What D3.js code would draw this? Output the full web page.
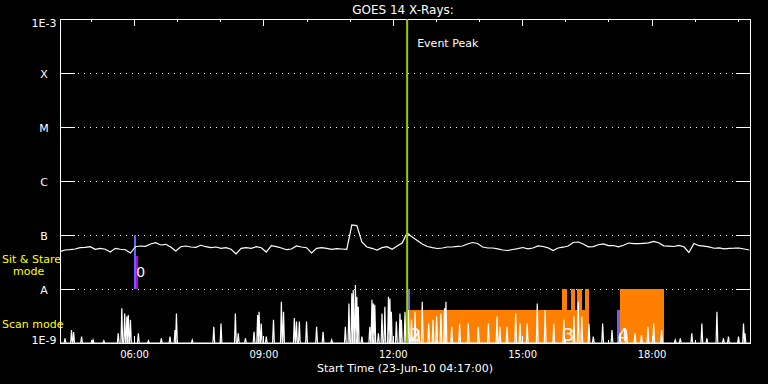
<!DOCTYPE html>
<html>
<head>
<meta charset="utf-8">
<script src="https://cdn.jsdelivr.net/npm/d3@7"></script>
<style>
  body { margin: 0; background: #000; }
  svg { display: block; font-family: "DejaVu Sans", sans-serif; }
</style>
</head>
<body>
<svg id="chart" width="768" height="384"></svg>
<script>
// ---------------------------------------------------------------------------
// data
// ---------------------------------------------------------------------------
const chartTitle = 'GOES 14 X-Rays:';
const xTitle = 'Start Time (23-Jun-10 04:17:00)';
const dayStr = '2010-06-23';
const startClock = '04:17';
const endClock = '20:17';
const xLabelHours = ['06:00', '09:00', '12:00', '15:00', '18:00'];
const yTickValues = [1e-9, 1e-8, 1e-7, 1e-6, 1e-5, 1e-4, 1e-3];
const yTickLabels = ['1E-9', 'A', 'B', 'C', 'M', 'X', '1E-3'];

// GOES long channel, one sample every 7 min from start time, in 1e-8 W/m^2
const longStepMin = 7;
const longFlux = [
  4.91, 5.27, 5.34, 5.51, 5.82, 5.92, 6.07, 5.44, 5.67, 5.44,
  4.84, 5.67, 5.44, 5.34, 4.64, 6.07, 6.26, 6.18, 6.81, 7.20,
  6.53, 6.73, 5.99, 5.05, 6.07, 6.26, 5.99, 5.92, 6.45, 6.07,
  5.82, 5.99, 5.67, 5.82, 5.44, 4.45, 5.67, 5.82, 5.67, 6.07,
  5.82, 4.84, 6.34, 6.07, 5.74, 5.34, 5.51, 6.26, 5.99, 5.82,
  4.64, 5.67, 5.82, 5.67, 5.44, 5.58, 5.51, 5.44, 15.3, 14.9,
  7.42, 5.99, 5.67, 5.27, 5.82, 6.07, 5.44, 6.26, 7.11, 10.9,
  9.18, 7.91, 6.81, 6.12, 5.82, 5.62, 5.74, 5.99, 5.99, 6.18,
  6.26, 6.81, 7.26, 6.96, 5.99, 5.74, 5.74, 5.55, 5.27, 5.16,
  5.39, 5.58, 5.87, 5.55, 5.74, 6.26, 6.12, 5.79, 5.16, 5.74,
  5.94, 6.26, 7.26, 7.42, 6.81, 6.05, 6.10, 6.59, 6.84, 6.34,
  6.39, 6.05, 6.45, 7.11, 6.90, 6.93, 7.02, 7.14, 7.61, 7.20,
  6.31, 6.20, 6.12, 6.42, 6.05, 4.74, 6.96, 6.34, 6.23, 6.02,
  5.69, 5.77, 5.53, 5.67, 5.69, 5.74, 5.51, 5.27
];

// short bursts near the floor: minutes after start, peak flux in 1e-9 W/m^2
const burstMin = [
  7, 16, 19, 30, 46, 61, 81, 86, 90, 93,
  95, 98, 109, 123, 141, 153, 160, 162, 184, 214,
  224, 244, 248, 258, 270, 275, 277, 280, 287, 297,
  308, 311, 326, 329, 333, 343, 357, 366, 378, 397,
  402, 406, 408, 411, 413, 415, 420, 431, 434, 436,
  438, 443, 448, 452, 457, 459, 461, 468, 473, 475,
  480, 485, 489, 494, 499, 504, 513, 519, 524, 530,
  535, 537, 545, 556, 568, 582, 596, 608, 612, 622,
  634, 640, 650, 664, 675, 687, 701, 715, 721, 726,
  736, 742, 755, 768, 779, 788, 800, 809, 818, 826,
  837, 856, 863, 879, 893, 900, 914, 923, 930, 944,
  951, 953
];
const burstFlux = [
  1.22, 1.74, 1.6, 1.31, 1.14, 1.10, 1.51, 4.4, 3.5, 3.1,
  3.3, 2.7, 1.51, 1.10, 1.22, 1.31, 1.74, 3.5, 1.14, 2.0,
  2.3, 3.5, 1.51, 1.22, 1.62, 3.3, 3.8, 2.3, 1.31, 2.7,
  5.8, 3.8, 2.9, 2.5, 2.5, 2.5, 2.0, 1.62, 1.14, 2.0,
  5.4, 8.3, 9.6, 11.9, 7.2, 4.7, 1.31, 2.0, 6.3, 5.4,
  5.1, 1.51, 3.5, 4.7, 7.2, 6.7, 3.8, 2.5, 3.5, 2.7,
  3.8, 4.1, 2.7, 3.8, 1.74, 5.8, 2.3, 2.7, 3.1, 3.5,
  4.4, 5.8, 2.0, 2.3, 2.3, 2.0, 2.3, 3.1, 2.0, 2.0,
  3.5, 2.3, 2.3, 5.4, 4.1, 2.3, 2.7, 3.1, 5.8, 3.1,
  2.3, 1.31, 2.3, 1.74, 1.51, 1.74, 1.51, 1.41, 2.0, 2.3,
  1.74, 1.14, 1.22, 1.51, 2.3, 1.22, 3.8, 1.22, 1.31, 1.31,
  2.3, 1.51
];

const eventPeak = '12:20';
const eventLabel = 'Event Peak';

// observation intervals
const sitStart = ['06:02'];
const sitEnd = ['06:06'];
const scanStart = ['12:23', '15:56', '16:08', '16:16', '16:27', '17:16'];
const scanEnd = ['16:33', '16:02', '16:13', '16:23', '16:33', '18:18'];
const scanTall = [false, true, true, true, true, true];
const markerTimes = ['06:01', '12:22', '17:14'];
const markerMode = ['sit', 'tall', 'scan'];
const obsNumbers = ['0', '2', '3', '4'];
const obsNumberTimes = ['06:03', '12:24', '15:57', '17:13'];
const obsNumberMode = ['sit', 'scan', 'scan', 'scan'];
const modeLabels = ['Sit & Stare', 'mode', 'Scan mode'];

// ---------------------------------------------------------------------------
// setup
// ---------------------------------------------------------------------------
const t = s => new Date(`${dayStr}T${s}:00Z`);
const t0 = t(startClock);
const addMin = m => new Date(t0.getTime() + m * 60000);

const plotL = 60, plotR = 750, plotT = 19, plotB = 343;
const x = d3.scaleUtc().domain([t0, t(endClock)]).range([plotL, plotR]);
const y = d3.scaleLog().domain([1e-9, 1e-3]).range([plotB, plotT]);

const ORANGE = '#ff8000', BLUE = '#6464ff', MAGENTA = '#c000d8',
      GREEN = '#9acd00', YELLOW = '#ffff00';

// flux bands used for the observation strips
const band = {
  sit: [1e-8, 4.1e-8],
  sitMarker: [1e-8, 1e-7],
  scan: [1e-9, 4.1e-9],
  tall: [1e-9, 1e-8]
};

const svg = d3.select('#chart');
svg.append('rect').attr('width', 768).attr('height', 384).attr('fill', '#000');

// dotted decade lines
svg.append('g')
  .selectAll('line')
  .data(yTickValues.slice(1, -1))
  .join('line')
  .attr('x1', 78).attr('x2', 734)
  .attr('y1', d => Math.round(y(d)) + 0.5)
  .attr('y2', d => Math.round(y(d)) + 0.5)
  .attr('stroke', '#fff')
  .attr('stroke-dasharray', '1,5');

// observation bands
const obs = svg.append('g').attr('shape-rendering', 'crispEdges');
obs.selectAll('rect.sit')
  .data(sitStart)
  .join('rect')
  .attr('class', 'sit')
  .attr('x', (d, i) => x(t(d)))
  .attr('width', (d, i) => x(t(sitEnd[i])) - x(t(d)))
  .attr('y', y(band.sit[1]))
  .attr('height', y(band.sit[0]) - y(band.sit[1]))
  .attr('fill', MAGENTA);

obs.selectAll('rect.scan')
  .data(scanStart)
  .join('rect')
  .attr('class', 'scan')
  .attr('x', d => x(t(d)))
  .attr('width', (d, i) => x(t(scanEnd[i])) - x(t(d)))
  .attr('y', (d, i) => y(band[scanTall[i] ? 'tall' : 'scan'][1]))
  .attr('height', (d, i) => {
    const b = band[scanTall[i] ? 'tall' : 'scan'];
    return y(b[0]) - y(b[1]);
  })
  .attr('fill', ORANGE);

obs.selectAll('rect.marker')
  .data(markerTimes)
  .join('rect')
  .attr('class', 'marker')
  .attr('x', d => x(t(d)) - 1)
  .attr('width', (d, i) => markerMode[i] === 'scan' ? 3 : 2)
  .attr('y', (d, i) => y(band[markerMode[i] === 'sit' ? 'sitMarker' : markerMode[i]][1]))
  .attr('height', (d, i) => {
    const b = band[markerMode[i] === 'sit' ? 'sitMarker' : markerMode[i]];
    return y(b[0]) - y(b[1]);
  })
  .attr('fill', BLUE);

// long channel curve
const longLine = d3.line()
  .x((d, i) => x(addMin(i * longStepMin)))
  .y(d => y(d * 1e-8));
svg.append('path')
  .datum(longFlux)
  .attr('d', longLine)
  .attr('fill', 'none')
  .attr('stroke', '#fff')
  .attr('stroke-width', 1.2);

// bursts near the floor
const burstPts = [[0, 1]];
burstMin.forEach((m, i) => {
  burstPts.push([m - 1.2, 1], [m, burstFlux[i]], [m + 1.2, 1]);
});
burstPts.push([960, 1]);
const burstLine = d3.line()
  .x(d => x(addMin(d[0])))
  .y(d => y(d[1] * 1e-9));
svg.append('path')
  .datum(burstPts)
  .attr('d', burstLine)
  .attr('fill', 'none')
  .attr('stroke', '#fff')
  .attr('stroke-width', 1.2);

// axes
const axes = svg.append('g').attr('shape-rendering', 'crispEdges');
const hourTicks = d3.utcHours(t0, t(endClock));
const isMajor = d => d.getUTCHours() % 3 === 0;

const topAxis = axes.append('g')
  .attr('transform', `translate(0,${plotT})`)
  .call(d3.axisBottom(x).tickValues(hourTicks).tickSize(3).tickSizeOuter(0).tickFormat(''));
topAxis.selectAll('.tick line').attr('y2', d => isMajor(d) ? 7 : 3);

const botAxis = axes.append('g')
  .attr('transform', `translate(0,${plotB})`)
  .call(d3.axisTop(x).tickValues(hourTicks).tickSize(3).tickSizeOuter(0).tickFormat(''));
botAxis.selectAll('.tick line').attr('y2', d => isMajor(d) ? -7 : -3);

axes.append('g')
  .attr('transform', `translate(${plotL},0)`)
  .call(d3.axisRight(y).tickValues(yTickValues).tickSize(15).tickSizeOuter(0).tickFormat(''));
axes.append('g')
  .attr('transform', `translate(${plotR},0)`)
  .call(d3.axisLeft(y).tickValues(yTickValues).tickSize(14).tickSizeOuter(0).tickFormat(''));
axes.selectAll('path.domain, .tick line').attr('stroke', '#fff');

// x labels
const xLab = svg.append('g')
  .attr('transform', `translate(0,${plotB})`)
  .call(d3.axisBottom(x)
    .tickValues(xLabelHours.map(t))
    .tickSize(0).tickPadding(8)
    .tickFormat(d3.utcFormat('%H:%M')));
xLab.select('.domain').remove();
xLab.selectAll('text').attr('fill', '#fff').attr('font-size', 10)
  .attr('font-family', '"DejaVu Sans", sans-serif');

// y labels
svg.append('g')
  .selectAll('text')
  .data(yTickValues)
  .join('text')
  .attr('x', 44)
  .attr('y', (d, i) => y(d) + (i === 0 ? 1 : i === yTickValues.length - 1 ? 8 : 5))
  .attr('text-anchor', 'middle')
  .attr('fill', '#fff')
  .attr('font-size', 11)
  .text((d, i) => yTickLabels[i]);

// event peak
svg.append('line')
  .attr('x1', x(t(eventPeak))).attr('x2', x(t(eventPeak)))
  .attr('y1', plotT).attr('y2', plotB)
  .attr('stroke', GREEN).attr('stroke-width', 2);
svg.append('text')
  .attr('x', x(t(eventPeak)) + 10).attr('y', 47)
  .attr('fill', '#fff').attr('font-size', 11)
  .text(eventLabel);

// observation numbers
svg.append('g')
  .selectAll('text')
  .data(obsNumbers)
  .join('text')
  .attr('x', (d, i) => x(t(obsNumberTimes[i])))
  .attr('y', (d, i) => obsNumberMode[i] === 'sit' ? 277 : 341)
  .attr('font-size', (d, i) => obsNumberMode[i] === 'sit' ? 14 : 17)
  .attr('fill', '#fff')
  .text(d => d);

// titles
svg.append('text')
  .attr('x', 403).attr('y', 14)
  .attr('text-anchor', 'middle')
  .attr('fill', '#fff').attr('font-size', 12)
  .text(chartTitle);
svg.append('text')
  .attr('x', 405).attr('y', 372)
  .attr('text-anchor', 'middle')
  .attr('fill', '#fff').attr('font-size', 11)
  .text(xTitle);

// mode labels
const modeY = [263, 275, 328];
const modeX = [2, 13, 2];
svg.append('g')
  .selectAll('text')
  .data(modeLabels)
  .join('text')
  .attr('x', (d, i) => modeX[i])
  .attr('y', (d, i) => modeY[i])
  .attr('fill', YELLOW)
  .attr('font-size', 11)
  .text(d => d);
</script>
</body>
</html>
